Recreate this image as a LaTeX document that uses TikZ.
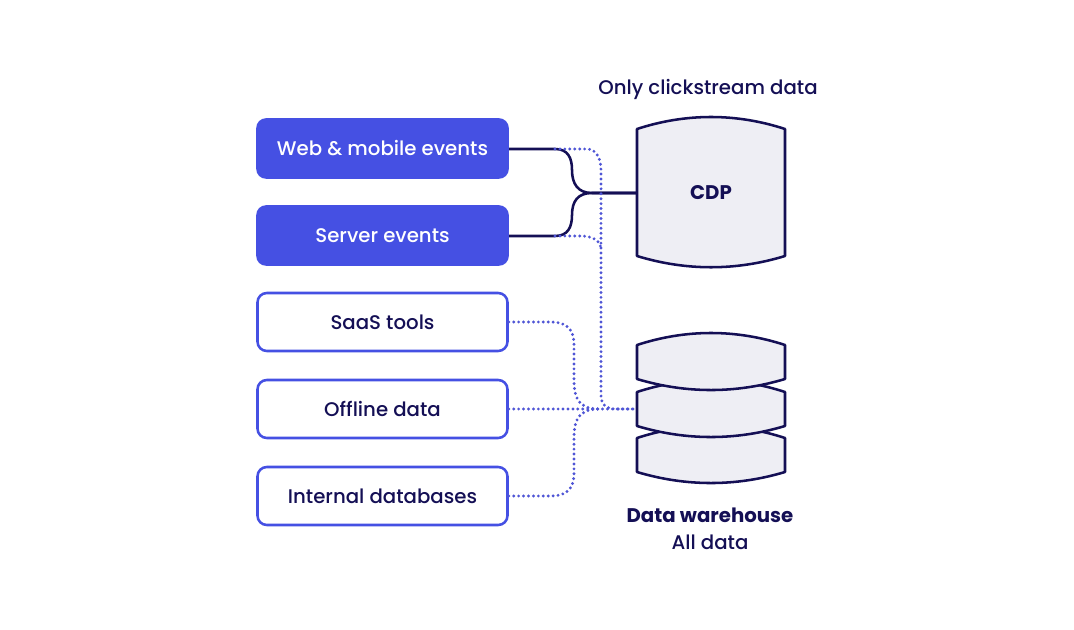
\documentclass[tikz,border=0pt]{standalone}
\usepackage{fontspec}
\setmainfont{Poppins}[UprightFont={* Medium}, BoldFont={* Bold}]
\definecolor{navy}{HTML}{140F55}
\definecolor{blu}{HTML}{4550E3}
\definecolor{dotc}{HTML}{4F55D6}
\definecolor{diskc}{HTML}{EEEEF4}
\begin{document}
\begin{tikzpicture}[x=0.75pt,y=-0.75pt,
  txt/.style={font=\fontsize{14.8}{16}\selectfont},
  btxt/.style={font=\bfseries\fontsize{14.8}{16}\selectfont},
  filledbox/.style={txt, rectangle, rounded corners=7.5pt, fill=blu, text=white, minimum width=189.5pt, minimum height=45.5pt},
  openbox/.style={txt, rectangle, rounded corners=7pt, draw=blu, line width=1.9pt, fill=white, text=navy, minimum width=187.5pt, minimum height=43.5pt},
  solidline/.style={draw=navy, line width=1.9pt},
  dotline/.style={draw=dotc, line width=2.4pt, line cap=round, dash pattern=on 0pt off 3.7pt},
  dbshape/.style={fill=diskc, draw=navy, line width=1.9pt, line join=round},
  label/.style={txt, text=navy}]
\useasboundingbox (0,0) rectangle (1074,630);
\fill[white] (0,0) rectangle (1074,630);

% source boxes
\node[filledbox] (web) at (382.5,148.5) {Web \& mobile events};
\node[filledbox] (srv) at (382.5,235.5) {Server events};
\node[openbox] (saas) at (382.5,322) {SaaS tools};
\node[openbox] (off) at (382.5,409) {Offline data};
\node[openbox] (intdb) at (382.5,496) {Internal databases};

% CDP cylinder
\draw[dbshape] (637,129) .. controls (686,113) and (736,113) .. (785,129) -- (785,256) .. controls (736,271) and (686,271) .. (637,256) -- cycle;
\node[label, btxt] (cdp) at (711,193) {CDP};
\coordinate (cdpin) at (637,193);

% warehouse disks
\foreach \t in {438,392,345} {
  \draw[dbshape] (637,\t) .. controls (686,\t-16) and (736,\t-16) .. (785,\t) -- (785,\t+34) .. controls (736,\t+48.7) and (686,\t+48.7) .. (637,\t+34) -- cycle;
}
\coordinate (whin) at (637,409);

% labels
\node[label] (only) at (708,89.5) {Only clickstream data};
\node[label, btxt] (dw) at (710,515.5) {Data warehouse};
\node[label] (all) at (710,542.5) {All data};

% solid connectors
\coordinate (websplit) at (555,149);
\coordinate (srvsplit) at (555,236);
\draw[solidline] (web.east |- websplit) -- (websplit) .. controls (568,149) and (572,158) .. (572,170) .. controls (572,184) and (578,193) .. (592,193) -- (cdpin);
\draw[solidline] (srv.east |- srvsplit) -- (srvsplit) .. controls (568,236) and (572,227) .. (572,215) .. controls (572,201) and (578,193) .. (592,193) -- (cdpin);

% dotted connectors
\draw[dotline] (websplit) -- (587,149) .. controls (597,149) and (601,160) .. (601,170) -- (601,395) .. controls (601,404) and (606,409) .. (615,409) -- (whin);
\draw[dotline] (srvsplit) -- (580,236) .. controls (592,236) and (601,240) .. (601,250);
\draw[dotline] (saas.east) -- (550,322) .. controls (568,322) and (574,330) .. (574,345) -- (574,380) .. controls (574,400) and (580,409) .. (600,409);
\draw[dotline] (off.east) -- (whin);
\draw[dotline] (intdb.east) -- (550,496) .. controls (568,496) and (574,488) .. (574,473) -- (574,438) .. controls (574,418) and (580,409) .. (600,409);
\end{tikzpicture}
\end{document}
